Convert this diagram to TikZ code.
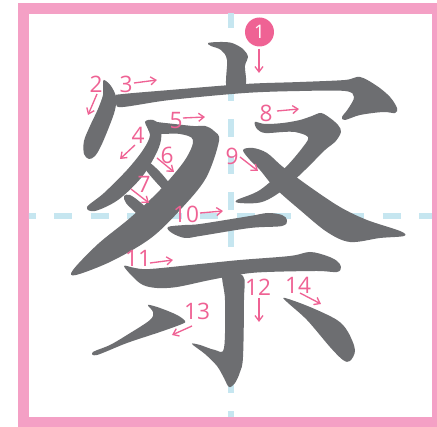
\documentclass[tikz,border=0pt]{standalone}
\usepackage{fontspec}
\setmainfont{Open Sans}
\usetikzlibrary{arrows.meta}
\definecolor{framecol}{HTML}{F4A0C5}
\definecolor{guidecol}{HTML}{C6E6F0}
\definecolor{inkcol}{HTML}{6D6E71}
\definecolor{numcol}{HTML}{EF6294}
\tikzset{
  glyph/.style={fill=inkcol},
  numlabel/.style={text=numcol, font=\fontsize{17}{17}\selectfont, inner sep=0pt},
  numarrow/.style={draw=numcol, line width=1pt, -{Straight Barb[length=4pt,width=6pt]}},
  guideline/.style={draw=guidecol, line width=4.5pt, dash pattern=on 13.5pt off 13.875pt},
  curvy/.style={smooth cycle, tension=0.55},
}
\begin{document}
\begin{tikzpicture}[x=0.75pt,y=-0.75pt]
\useasboundingbox (0,0) rectangle (437,427);
\fill[framecol] (18,3) rectangle (437,427);
\fill[white] (29,14) rectangle (432,417);
\begin{scope}
  \clip (29,14) rectangle (432,417);
  \draw[guideline] (231,10) -- (231,427);
  \draw[guideline] (18,216) -- (437,216);
\end{scope}
% stroke 1
\fill[glyph] plot[curvy] coordinates {(208,43) (220,42) (232,43) (243,49) (248,57) (245,66) (245,86) (227,88) (227,60) (221,50) (211,46)};
% stroke 2
\fill[glyph] plot[curvy] coordinates {(104,80) (111,86) (116,97) (115,110) (109,127) (101,146) (95,156) (89,159) (84,154) (84,141) (90,126) (98,109) (103,95) (103,86)};
% stroke 3
\fill[glyph] plot[curvy] coordinates {(115,96) (123,94) (170,90) (245,84) (300,82) (345,80) (360,77) (377,86) (390,97) (397,108) (395,113) (383,112) (360,115) (345,120) (342,117) (348,109) (354,97) (345,91) (300,91) (245,93) (170,100) (123,107) (116,104)};
% stroke 4
\fill[glyph] plot[curvy] coordinates {(145,122) (153,120) (160,126) (161,140) (155,156) (141,178) (118,200) (95,211) (87,207) (104,193) (127,170) (143,150) (150,135)};
% stroke 5
\fill[glyph] plot[curvy] coordinates {(148,122) (165,123) (193,126) (205,126) (214,131) (219,141) (206,178) (181,209) (151,238) (112,261) (76,275) (73,270) (98,244) (130,218) (160,190) (185,160) (193,140) (180,134) (160,134) (150,133)};
% stroke 6
\fill[glyph] plot[curvy] coordinates {(144,163) (150,163) (160,172) (169,183) (171,190) (165,191) (155,181) (146,170)};
% stroke 7
\fill[glyph] plot[curvy] coordinates {(124,196) (130,195) (140,202) (150,212) (152,220) (145,222) (135,212) (126,203)};
% stroke 8
\fill[glyph] plot[curvy] coordinates {(255,122) (265,124) (283,123) (300,120) (312,116) (321,113) (330,118) (338,125) (341,132) (335,142) (325,150) (305,170) (283,190) (262,202) (240,203) (237,200) (260,190) (285,168) (303,147) (308,137) (295,132) (283,132) (265,133) (257,129)};
% stroke 9
\fill[glyph] plot[curvy] coordinates {(243,150) (253,148) (267,153) (283,167) (310,187) (340,207) (367,220) (400,231) (404,236) (380,238) (350,242) (327,232) (300,210) (275,188) (260,170) (250,160)};
% stroke 10
\fill[glyph] plot[curvy] coordinates {(168,227) (185,225) (200,224) (250,216) (268,213) (282,215) (287,220) (282,226) (250,228) (200,236) (185,238) (172,233)};
% stroke 11
\fill[glyph] plot[curvy] coordinates {(124,266) (135,268) (150,269) (200,264) (240,260) (290,256) (310,252) (327,256) (337,261) (341,267) (337,272) (317,271) (267,272) (243,274) (210,280) (177,287) (157,288) (143,285) (133,277)};
% stroke 12
\fill[glyph] plot[curvy] coordinates {(223,274) (243,276) (244,300) (243,357) (240,372) (235,383) (229,387) (224,378) (217,366) (205,354) (192,344) (200,345) (215,350) (224,348) (225,300)};
% stroke 13
\fill[glyph] plot[curvy] coordinates {(148,305) (160,308) (177,315) (185,321) (182,324) (160,332) (127,343) (97,355) (93,352) (110,345) (127,335) (150,320) (153,312)};
% stroke 14
\fill[glyph] plot[curvy] coordinates {(285,298) (310,307) (337,320) (348,332) (355,350) (350,361) (343,360) (330,347) (307,320) (287,302)};
% labels
\node[circle, fill=numcol, minimum size=21.75pt, inner sep=0pt, text=white, font=\fontsize{14}{14}\selectfont] (n1) at (259.5,32) {1};
\node[numlabel] (n2) at (96,84) {2};
\node[numlabel] (n3) at (126,84) {3};
\node[numlabel] (n4) at (138,135) {4};
\node[numlabel] (n5) at (176,121) {5};
\node[numlabel] (n6) at (167,155) {6};
\node[numlabel] (n7) at (144,184) {7};
\node[numlabel] (n8) at (266,113) {8};
\node[numlabel] (n9) at (232,156) {9};
\node[numlabel] (n10) at (186,214) {10};
\node[numlabel] (n11) at (138,258) {11};
\node[numlabel] (n12) at (258,287) {12};
\node[numlabel] (n13) at (197,311) {13};
\node[numlabel] (n14) at (298,285) {14};
% arrow ends
\coordinate (s1) at (259,49);   \coordinate (e1) at (259,73);
\coordinate (s2) at (97,94);    \coordinate (e2) at (88,115);
\coordinate (s3) at (134,83);   \coordinate (e3) at (157,80);
\coordinate (s4) at (135,145);  \coordinate (e4) at (120,159);
\coordinate (s5) at (183,118);  \coordinate (e5) at (205,117);
\coordinate (s6) at (157,158);  \coordinate (e6) at (174,172);
\coordinate (s7) at (131,189);  \coordinate (e7) at (149,203);
\coordinate (s8) at (277,111);  \coordinate (e8) at (299,109);
\coordinate (s9) at (240,157);  \coordinate (e9) at (258,171);
\coordinate (s10) at (200,213); \coordinate (e10) at (223,211);
\coordinate (s11) at (150,263); \coordinate (e11) at (173,260);
\coordinate (s12) at (259,298); \coordinate (e12) at (259,322);
\coordinate (s13) at (192,326); \coordinate (e13) at (172,335);
\coordinate (s14) at (300,293); \coordinate (e14) at (321,304);
\foreach \i in {1,...,14} { \draw[numarrow] (s\i) -- (e\i); }
\end{tikzpicture}
\end{document}
